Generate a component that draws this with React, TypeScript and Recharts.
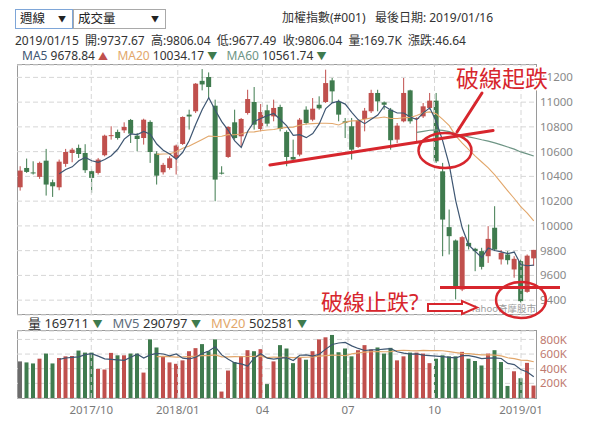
import React from "react";
import {
  ComposedChart,
  Bar,
  Line,
  Cell,
  XAxis,
  YAxis,
  CartesianGrid,
  ReferenceLine,
} from "recharts";

// ==========================================
// data — weekly TAIEX candles (週線)
// ==========================================
const FIRST_WEEK = "2017-07-14";
const QUARTER_STARTS = ["2017-10-01", "2018-01-01", "2018-04-01", "2018-07-01", "2018-10-01", "2019-01-01"];
const QUARTER_LABELS = ["2017/10", "2018/01", "04", "07", "10", "2019/01"];

const PRICE_TICKS = [9400, 9600, 9800, 10000, 10200, 10400, 10600, 10800, 11000, 11200];
const VOLUME_TICKS = [200000, 400000, 600000, 800000];

const opens = [
  10312, 10468, 10432, 10396, 10527, 10353, 10312, 10501, 10589, 10630,
  10589, 10442, 10428, 10571, 10728, 10759, 10772, 10856, 10729, 10710,
  10840, 10584, 10433, 10468, 10549, 10662, 10899, 10926, 11172, 11203,
  10971, 10430, 10557, 10837, 10724, 10912, 11001, 10783, 10934, 10885,
  10961, 10759, 10557, 10576, 10939, 10858, 10979, 11001, 11176, 11001,
  10845, 10805, 10638, 10864, 10926, 11074, 10998, 10939, 10697, 10845,
  11095, 10866, 10885, 10953, 11012, 10441, 9990, 9882, 9486, 9863,
  9815, 9796, 9755, 9985, 9729, 9769, 9648, 9715, 9467, 9737.67,
];
const highs = [
  10482, 10544, 10522, 10519, 10622, 10374, 10536, 10622, 10630, 10657,
  10660, 10455, 10549, 10737, 10805, 10778, 10837, 10864, 10751, 10866,
  10853, 10603, 10509, 10562, 10657, 10885, 10939, 11154, 11267, 11240,
  11020, 10482, 10805, 10939, 10872, 11100, 11122, 10985, 10979, 11020,
  10979, 10772, 10697, 10872, 10966, 11033, 11047, 11262, 11195, 11020,
  10872, 10872, 10858, 10953, 11100, 11100, 11006, 10953, 10831, 11195,
  11100, 10877, 10993, 11074, 11074, 10509, 10132, 9890, 9917, 10011,
  9823, 9823, 9998, 10159, 9804, 9796, 9755, 9728, 9769, 9806.04,
];
const lows = [
  10285, 10428, 10415, 10380, 10245, 10234, 10288, 10477, 10514, 10549,
  10428, 10267, 10415, 10562, 10697, 10697, 10751, 10670, 10603, 10657,
  10509, 10334, 10415, 10455, 10415, 10654, 10778, 10912, 11095, 11033,
  10199, 10415, 10549, 10697, 10638, 10899, 10778, 10764, 10805, 10845,
  10764, 10482, 10530, 10562, 10818, 10845, 10939, 10993, 10993, 10845,
  10710, 10536, 10630, 10764, 10912, 10926, 10939, 10616, 10670, 10837,
  10826, 10684, 10872, 10939, 10509, 9755, 9769, 9406, 9473, 9809,
  9634, 9648, 9701, 9796, 9688, 9688, 9581, 9379, 9460, 9677.49,
];
const closes = [
  10447, 10436, 10426, 10509, 10334, 10320, 10519, 10597, 10616, 10581,
  10450, 10388, 10536, 10729, 10733, 10710, 10799, 10745, 10702, 10858,
  10597, 10406, 10493, 10546, 10649, 10880, 10884, 11149, 11143, 11122,
  10374, 10425, 10799, 10710, 10864, 11025, 10818, 10920, 10826, 10953,
  10783, 10557, 10536, 10858, 10831, 10947, 10950, 11154, 11087, 10899,
  10831, 10616, 10853, 10931, 11074, 11006, 10979, 10692, 10810, 11074,
  10845, 10872, 10966, 11012, 10522, 10051, 9917, 9513, 9909, 9836,
  9796, 9669, 9895, 9809, 9782, 9723, 9734, 9392, 9759.4, 9806.04,
];
const volumes = [
  500000, 486000, 472000, 537000, 607000, 472000, 546000, 569000, 574000, 648000,
  620000, 620000, 398000, 389000, 616000, 583000, 583000, 607000, 607000, 347000,
  801000, 690000, 560000, 486000, 467000, 514000, 639000, 681000, 736000, 639000,
  801000, 88000, 375000, 491000, 574000, 653000, 639000, 667000, 190000, 500000,
  722000, 676000, 476000, 546000, 523000, 639000, 801000, 829000, 861000, 625000,
  676000, 569000, 653000, 722000, 662000, 690000, 607000, 685000, 514000, 569000,
  620000, 620000, 607000, 476000, 537000, 583000, 569000, 569000, 630000, 537000,
  505000, 444000, 607000, 653000, 491000, 165000, 365000, 270000, 480000, 169711,
];

const RED = "#c0504d";
const GREEN = "#3f7b4e";
const FLAT = "#6b6b6b";
const MA5_COLOR = "#3e5672";
const MA20_COLOR = "#e2a76b";
const MA60_COLOR = "#6e9585";
const GRID = "#d6d6d6";
const NOTE = "#d7262d";
const FONT = "'Noto Sans', 'Noto Sans CJK TC', sans-serif";

// moving average, drawn from the bar after the first full window (like the source chart)
function movingAverage(values: number[], n: number) {
  return values.map((_, i) => {
    if (i <= n) return null;
    let s = 0;
    for (let k = i - n + 1; k <= i; k++) s += values[k];
    return s / n;
  });
}

const WEEK_MS = 7 * 86400000;
const t0 = Date.parse(FIRST_WEEK);
const quarterTicks = QUARTER_STARTS.map((d) => (Date.parse(d) - t0) / WEEK_MS);

const ma5 = movingAverage(closes, 5);
const ma20 = movingAverage(closes, 20);
const ma60 = movingAverage(closes, 60);
const mv5 = movingAverage(volumes, 5);
const mv20 = movingAverage(volumes, 20);

const data = closes.map((c, i) => ({
  idx: i,
  open: opens[i],
  high: highs[i],
  low: lows[i],
  close: c,
  range: [lows[i], highs[i]],
  vol: volumes[i],
  volColor: i === 0 ? FLAT : c >= closes[i - 1] ? RED : GREEN,
  ma5: ma5[i],
  ma20: ma20[i],
  ma60: ma60[i],
  mv5: mv5[i],
  mv20: mv20[i],
}));

function Candle(props: any) {
  const { x, y, width, height, payload } = props;
  if (x == null || y == null) return null;
  const { open, close, high, low } = payload;
  const top = Math.min(y, y + height);
  const h = Math.abs(height);
  const ratio = h / (high - low);
  const cx = x + width / 2;
  const yOf = (v: number) => top + (high - v) * ratio;
  const color = close >= open ? RED : GREEN;
  const bodyTop = yOf(Math.max(open, close));
  const bodyBot = yOf(Math.min(open, close));
  return (
    <g>
      <line x1={cx} x2={cx} y1={top} y2={top + h} stroke={color} strokeWidth={1} />
      <rect x={cx - 2.5} y={bodyTop} width={5} height={Math.max(1, bodyBot - bodyTop)} fill={color} />
    </g>
  );
}

const PLOT_LEFT = 17;
const PLOT_W = 520;

const txt: React.CSSProperties = {
  position: "absolute",
  whiteSpace: "nowrap",
  fontSize: 12,
  lineHeight: "13px",
  color: "#333",
};

function Select({ left, width, label, focus }: { left: number; width: number; label: string; focus?: boolean }) {
  return (
    <div
      style={{
        position: "absolute",
        left,
        top: 9,
        width,
        height: 20,
        boxSizing: "border-box",
        border: `1px solid ${focus ? "#7ea6d8" : "#a9a9a9"}`,
        fontSize: 12.5,
        lineHeight: "18px",
        paddingLeft: 4,
        color: "#222",
      }}
    >
      {label}
      <span style={{ position: "absolute", right: 6, top: 0, fontSize: 8 }}>▼</span>
    </div>
  );
}

export default function App() {
  return (
    <div
      style={{
        position: "absolute",
        left: 0,
        top: 0,
        width: 593,
        height: 430,
        background: "#fff",
        fontFamily: FONT,
        overflow: "hidden",
      }}
    >
      <Select left={15} width={58} label="週線" focus />
      <Select left={73} width={93} label="成交量" />
      <div style={{ ...txt, left: 282, top: 11 }}>加權指數(#001)&nbsp;&nbsp; 最後日期: 2019/01/16</div>
      <div style={{ ...txt, left: 15, top: 34 }}>
        2019/01/15&nbsp; 開:9737.67&nbsp; 高:9806.04&nbsp; 低:9677.49&nbsp; 收:9806.04&nbsp; 量:169.7K&nbsp; 漲跌:46.64
      </div>
      <div style={{ ...txt, left: 22, top: 49 }}>
        <span style={{ color: MA5_COLOR }}>MA5</span> 9678.84 <span style={{ color: RED, fontSize: 10 }}>▲</span>
        &nbsp;&nbsp; <span style={{ color: MA20_COLOR }}>MA20</span> 10034.17{" "}
        <span style={{ color: GREEN, fontSize: 10 }}>▼</span>
        &nbsp;&nbsp; <span style={{ color: MA60_COLOR }}>MA60</span> 10561.74{" "}
        <span style={{ color: GREEN, fontSize: 10 }}>▼</span>
      </div>

      {/* plot frames */}
      <div style={{ position: "absolute", left: PLOT_LEFT, top: 64, width: PLOT_W, height: 251, boxSizing: "border-box", border: "1px solid #9a9a9a" }} />
      <div style={{ position: "absolute", left: PLOT_LEFT, top: 330, width: PLOT_W, height: 69, boxSizing: "border-box", border: "1px solid #9a9a9a" }} />

      {/* price panel */}
      <div style={{ position: "absolute", left: 0, top: 0 }}>
        <ComposedChart width={593} height={316} data={data} margin={{ top: 65, right: 6, bottom: 1, left: PLOT_LEFT }}>
          <CartesianGrid xAxisId="cat" yAxisId="p" vertical={false} stroke={GRID} strokeDasharray="5 3" />
          <XAxis xAxisId="cat" dataKey="idx" type="category" hide height={0} />
          <XAxis xAxisId="t" type="number" domain={[-0.5, 79.5]} allowDataOverflow hide height={0} />
          <YAxis
            yAxisId="p"
            orientation="right"
            domain={[9280, 11300]}
            allowDataOverflow
            ticks={PRICE_TICKS}
            interval={0}
            width={50}
            axisLine={false}
            tickLine={false}
            tickSize={0}
            tickMargin={3}
            tick={{ fontSize: 11.5, fill: "#8a8a8a", fontFamily: FONT }}
          />
          {quarterTicks.map((t) => (
            <ReferenceLine key={t} xAxisId="t" yAxisId="p" x={t} stroke={GRID} strokeDasharray="5 3" />
          ))}
          <Bar xAxisId="cat" yAxisId="p" dataKey="range" shape={Candle} isAnimationActive={false} />
          <Line xAxisId="cat" yAxisId="p" dataKey="ma60" stroke={MA60_COLOR} strokeWidth={1.2} dot={false} isAnimationActive={false} />
          <Line xAxisId="cat" yAxisId="p" dataKey="ma20" stroke={MA20_COLOR} strokeWidth={1.1} dot={false} isAnimationActive={false} />
          <Line xAxisId="cat" yAxisId="p" dataKey="ma5" stroke={MA5_COLOR} strokeWidth={1.2} dot={false} isAnimationActive={false} />
        </ComposedChart>
      </div>

      {/* volume legend */}
      <div style={{ ...txt, left: 28, top: 317, fontSize: 13, lineHeight: "13px" }}>
        量 169711 <span style={{ color: GREEN, fontSize: 10 }}>▼</span>
        &nbsp;&nbsp; <span style={{ color: "#5c6c7c" }}>MV5</span> 290797 <span style={{ color: GREEN, fontSize: 10 }}>▼</span>
        &nbsp;&nbsp; <span style={{ color: MA20_COLOR }}>MV20</span> 502581 <span style={{ color: GREEN, fontSize: 10 }}>▼</span>
      </div>

      {/* volume panel */}
      <div style={{ position: "absolute", left: 0, top: 310 }}>
        <ComposedChart width={593} height={120} data={data} margin={{ top: 21, right: 6, bottom: 8, left: PLOT_LEFT }}>
          <CartesianGrid xAxisId="cat" yAxisId="v" vertical={false} stroke={GRID} strokeDasharray="5 3" />
          <XAxis
            xAxisId="t"
            type="number"
            domain={[-0.5, 79.5]}
            allowDataOverflow
            ticks={quarterTicks}
            interval={0}
            tickFormatter={(_v: number, i: number) => QUARTER_LABELS[i]}
            height={24}
            axisLine={false}
            tickLine={false}
            tick={{ fontSize: 11.5, fill: "#7a7a7a", fontFamily: FONT }}
          />
          <XAxis xAxisId="cat" dataKey="idx" type="category" hide height={0} />
          <YAxis
            yAxisId="v"
            orientation="right"
            domain={[0, 915000]}
            allowDataOverflow
            ticks={VOLUME_TICKS}
            interval={0}
            tickFormatter={(v: number) => `${v / 1000}K`}
            width={50}
            axisLine={false}
            tickLine={false}
            tickSize={0}
            tickMargin={3}
            tick={{ fontSize: 11.5, fill: "#c07a70", fontFamily: FONT }}
          />
          {quarterTicks.map((t) => (
            <ReferenceLine key={t} xAxisId="t" yAxisId="v" x={t} stroke={GRID} strokeDasharray="5 3" />
          ))}
          <Bar xAxisId="cat" yAxisId="v" dataKey="vol" barSize={4} isAnimationActive={false}>
            {data.map((d) => (
              <Cell key={d.idx} fill={d.volColor} />
            ))}
          </Bar>
          <Line xAxisId="cat" yAxisId="v" dataKey="mv20" stroke={MA20_COLOR} strokeWidth={1.2} dot={false} isAnimationActive={false} />
          <Line xAxisId="cat" yAxisId="v" dataKey="mv5" stroke={MA5_COLOR} strokeWidth={1.2} dot={false} isAnimationActive={false} />
        </ComposedChart>
      </div>

      {/* hand-drawn annotations */}
      <svg width={593} height={430} style={{ position: "absolute", left: 0, top: 0, pointerEvents: "none" }}>
        <line x1={270} y1={165} x2={493} y2={130.5} stroke={NOTE} strokeWidth={3.2} strokeLinecap="round" />
        <ellipse cx={445} cy={150.5} rx={26.5} ry={17.5} fill="none" stroke={NOTE} strokeWidth={2.5} />
        <line x1={482} y1={93} x2={457} y2={132} stroke={NOTE} strokeWidth={3} strokeLinecap="round" />
        <text x={456} y={87} fontSize={23} fill={NOTE} stroke="#fff" strokeWidth={3} paintOrder="stroke" fontFamily={FONT}>
          破線起跌
        </text>
        <line x1={440} y1={287.5} x2={560} y2={287.5} stroke={NOTE} strokeWidth={3} />
        <text x={536} y={312} fontSize={9.5} fill="#a0a0a0" textAnchor="end" fontFamily={FONT}>
          Yahoo奇摩股市
        </text>
        <ellipse cx={521} cy={300} rx={25} ry={18} fill="none" stroke={NOTE} strokeWidth={2.5} />
        <path d="M428,304 L462,304 L462,301 L477,307.5 L462,314 L462,311 L428,311 Z" fill="#fff" stroke={NOTE} strokeWidth={2} />
        <text x={321} y={310} fontSize={22} fill={NOTE} fontFamily={FONT}>
          破線止跌?
        </text>
      </svg>
    </div>
  );
}
